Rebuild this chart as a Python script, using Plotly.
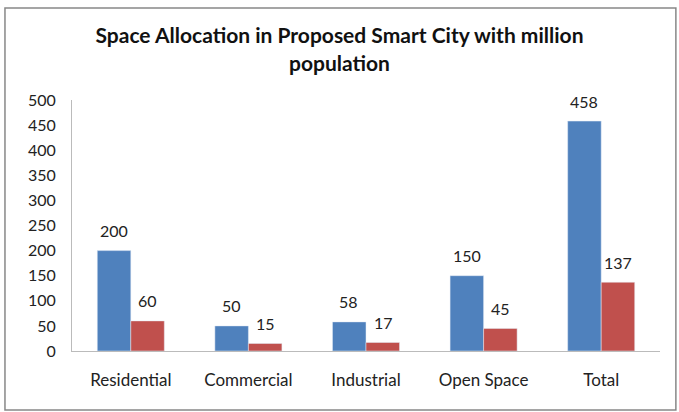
import plotly.graph_objects as go

categories = ["Residential", "Commercial", "Industrial", "Open Space", "Total"]
series_a = [200, 50, 58, 150, 458]
series_b = [60, 15, 17, 45, 137]
y_ticks = [0, 50, 100, 150, 200, 250, 300, 350, 400, 450, 500]

FONT = "Lato, 'Open Sans', sans-serif"
BLUE = "#4F81BD"
RED = "#C0504D"

fig = go.Figure()
fig.add_trace(go.Bar(x=categories, y=series_a, marker_color=BLUE, name="A",
                     offsetgroup=0))
fig.add_trace(go.Bar(x=categories, y=series_b, marker_color=RED, name="B",
                     offsetgroup=1))

annotations = []
for i, (a, b) in enumerate(zip(series_a, series_b)):
    for val, shift in ((a, -0.145), (b, 0.145)):
        annotations.append(dict(x=i + shift, y=val, xref="x", yref="y",
                                text=str(val), showarrow=False, yshift=20,
                                font=dict(family=FONT, size=16, color="#222")))

fig.update_layout(
    width=679, height=412,
    margin=dict(l=72, r=19, t=100, b=61),
    paper_bgcolor="white", plot_bgcolor="white",
    showlegend=False,
    barmode="group", bargap=0.43, bargroupgap=0,
    title=dict(text="<b>Space Allocation in Proposed Smart City with million<br>population</b>",
               x=0.5, xanchor="center", y=0.895, yanchor="middle",
               font=dict(family=FONT, size=21, color="#111")),
    xaxis=dict(showline=True, linecolor="#BBBBBB", linewidth=1, ticks="",
               tickfont=dict(family=FONT, size=17, color="#222"),
               showgrid=False, ticklabelstandoff=14),
    yaxis=dict(range=[0, 500], tickvals=y_ticks, showline=True,
               linecolor="#BBBBBB", linewidth=1, ticks="", showgrid=False,
               zeroline=False, tickfont=dict(family=FONT, size=16, color="#222"),
               ticklabelstandoff=12),
    annotations=annotations,
    shapes=[dict(type="rect", xref="paper", yref="paper",
                 x0=-0.114, x1=1.027, y0=-0.235, y1=1.367,
                 line=dict(color="#888888", width=1.5))],
)

fig.write_html("out.html", config={"displayModeBar": False},
               post_script="document.body.style.margin='0px';")
